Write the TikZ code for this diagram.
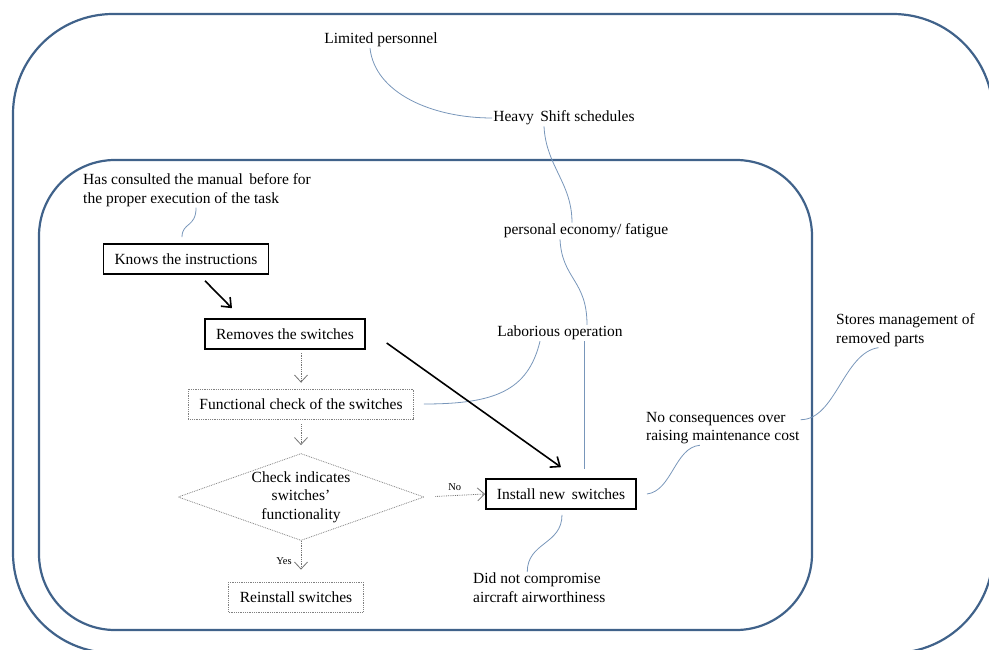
\documentclass[tikz,border=0pt]{standalone}
\usepackage{fontspec}
\setmainfont{Liberation Serif}
\usetikzlibrary{shapes.geometric,arrows.meta}
\definecolor{framecol}{RGB}{64,98,138}
\definecolor{linkcol}{RGB}{120,150,186}

\begin{document}
\begin{tikzpicture}[x=1pt,y=-1pt,
  font=\fontsize{15.5}{18.7}\selectfont,
  frame/.style={draw=framecol,line width=2.2pt},
  txt/.style={inner sep=1pt,align=left},
  solidbox/.style={draw,line width=1.6pt,inner xsep=11pt,minimum height=30pt},
  dotbox/.style={draw=gray,densely dotted,line width=0.8pt,inner xsep=11pt,minimum height=30pt},
  decision/.style={diamond,draw=gray,densely dotted,line width=0.8pt,minimum width=246pt,minimum height=87pt,inner sep=0pt},
  link/.style={draw=linkcol,line width=0.8pt},
  bigarrow/.style={-{Straight Barb[length=8pt,width=13pt]},line width=1.6pt},
  flow/.style={draw=black!55,densely dotted,line width=0.8pt,-{Straight Barb[length=7pt,width=13pt]}},
  small/.style={font=\fontsize{10.5}{12}\selectfont,inner sep=1pt,text=black}]
  \useasboundingbox (0,0) rectangle (989,650);
  \begin{scope}
    \clip (0,0) rectangle (989,650);
    \draw[frame,rounded corners=100pt] (13,14) rectangle (993,653);
  \end{scope}
  \draw[frame,rounded corners=76pt] (39,160) rectangle (812,630);

  \node[txt] (lim) at (381,40) {Limited personnel};
  \node[txt] (heavy) at (564,118) {Heavy\, Shift schedules};
  \node[txt] (pers) at (586,231) {personal economy/ fatigue};
  \node[txt] (lab) at (560,333) {Laborious operation};
  \node[txt,anchor=west] (stores) at (835,330) {Stores management of\\removed parts};
  \node[txt,anchor=west] (nocons) at (645,428) {No consequences over\\raising maintenance cost};
  \node[txt,anchor=west] (didnot) at (472,588) {Did not compromise\\aircraft airworthiness};
  \node[txt,anchor=west] (hasc) at (82,190) {Has consulted the manual\, before for\\the proper execution of the task};

  \node[solidbox] (knows) at (186,259) {Knows the instructions};
  \node[solidbox] (rem) at (285,334) {Removes the switches};
  \node[solidbox] (inst) at (561,494) {Install new\, switches};
  \node[dotbox] (chk) at (301,404) {Functional check of the switches};
  \node[decision] (dec) at (301,497) {};
  \node[align=center,inner sep=0pt] (dectext) at (dec.center) {Check indicates\\switches’\\functionality};
  \node[dotbox] (reins) at (296,597) {Reinstall switches};

  \draw[link] ([xshift=-11pt]lim.south) .. controls +(5,45) and +(-60,0) .. (heavy.west);
  \draw[link] ([xshift=-20pt]heavy.south) .. controls +(2,40) and +(0,-40) .. ([xshift=-14pt]pers.north);
  \draw[link] ([xshift=-26pt]pers.south) .. controls +(2,40) and +(0,-45) .. ([xshift=27pt]lab.north);
  \draw[link] ([xshift=24pt]lab.south) -- ([xshift=23pt,yshift=9pt]inst.north);
  \draw[link] ([xshift=-20pt]lab.south) .. controls +(-12,50) and +(70,0) .. ([xshift=10pt]chk.east);
  \draw[link] ([xshift=-27pt]stores.south) .. controls +(-35,5) and +(35,0) .. ([yshift=-9pt]nocons.north east);
  \draw[link] ([xshift=10pt]inst.east) .. controls +(25,-3) and +(-25,2) .. ([xshift=-23pt]nocons.south);
  \draw[link] ([xshift=1pt,yshift=-5pt]inst.south) .. controls +(0,30) and +(0,-30) .. ([xshift=-12pt]didnot.north);
  \draw[link] ([xshift=-1pt]hasc.south) .. controls +(0,20) and +(0,-15) .. ([xshift=-4pt,yshift=6pt]knows.north);

  \draw[bigarrow] ([xshift=19pt,yshift=-6pt]knows.south) -- ([xshift=-53pt,yshift=10pt]rem.north);
  \draw[bigarrow] ([xshift=21pt,yshift=-9pt]rem.east) -- ([yshift=11pt]inst.north);
  \draw[flow,shorten <=3pt,shorten >=6pt] (rem.south -| chk.north) -- (chk.north);
  \draw[flow,shorten <=5pt,shorten >=8pt] (chk.south) -- (dec.north);
  \draw[flow,shorten <=11pt] (dec.east) -- node[small,above=3pt] (no) {No} (inst.west);
  \draw[flow,shorten >=12pt] (dec.south) -- node[small,left=8pt] (yes) {Yes} (dec.south |- reins.north);
\end{tikzpicture}
\end{document}
